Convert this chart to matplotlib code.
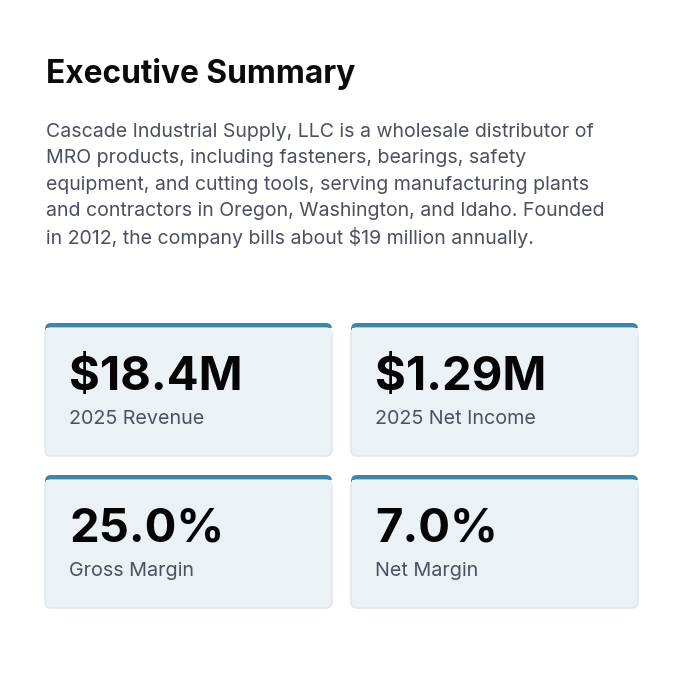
import matplotlib.pyplot as plt
from matplotlib.patches import FancyBboxPatch, Rectangle

# Contenu
title = "Executive Summary"
summary_lines = [
    "Cascade Industrial Supply, LLC is a wholesale distributor of",
    "MRO products, including fasteners, bearings, safety",
    "equipment, and cutting tools, serving manufacturing plants",
    "and contractors in Oregon, Washington, and Idaho. Founded",
    "in 2012, the company bills about $19 million annually.",
]
kpi_values = ["$18.4M", "$1.29M", "25.0%", "7.0%"]
kpi_labels = ["2025 Revenue", "2025 Net Income", "Gross Margin", "Net Margin"]

plt.rcParams['font.family'] = ['Inter', 'DejaVu Sans']

fig = plt.figure(figsize=(7, 7), dpi=100)
ax = fig.add_axes([0, 0, 1, 1])
ax.set_xlim(0, 700)
ax.set_ylim(700, 0)
ax.axis("off")

ax.text(46, 74, title, fontsize=22.8, fontweight="bold", color="#0b0b0f",
        va="center", ha="left")

for i, line in enumerate(summary_lines):
    ax.text(46, 132 + i * 26.4, line, fontsize=14.05, color="#4b5060",
            va="center", ha="left")

# Cartes
card_w, card_h = 287, 133
xs = [45, 351]
ys = [323, 475]
for k, (val, lab) in enumerate(zip(kpi_values, kpi_labels)):
    x0 = xs[k % 2]
    y0 = ys[k // 2]
    # barre du haut
    top = FancyBboxPatch((x0, y0), card_w, 20,
                         boxstyle="round,pad=0,rounding_size=6",
                         facecolor="#3f87a6", edgecolor="none", zorder=1)
    ax.add_patch(top)
    card = FancyBboxPatch((x0, y0 + 5), card_w, card_h - 5,
                          boxstyle="round,pad=0,rounding_size=6",
                          facecolor="#eaf2f6", edgecolor="#dce6ec",
                          linewidth=1, zorder=2)
    ax.add_patch(card)
    ax.add_patch(Rectangle((x0 + 0.5, y0 + 5), card_w - 1, 8,
                           facecolor="#eaf2f6", edgecolor="none", zorder=3))
    ax.text(x0 + 24, y0 + 55, val, fontsize=34, fontweight="bold",
            color="#050505", va="center", ha="left", zorder=4)
    ax.text(x0 + 24, y0 + 96, lab, fontsize=14.2, color="#4b5060",
            va="center", ha="left", zorder=4)

fig.savefig("out.png", dpi=100, facecolor="white")
